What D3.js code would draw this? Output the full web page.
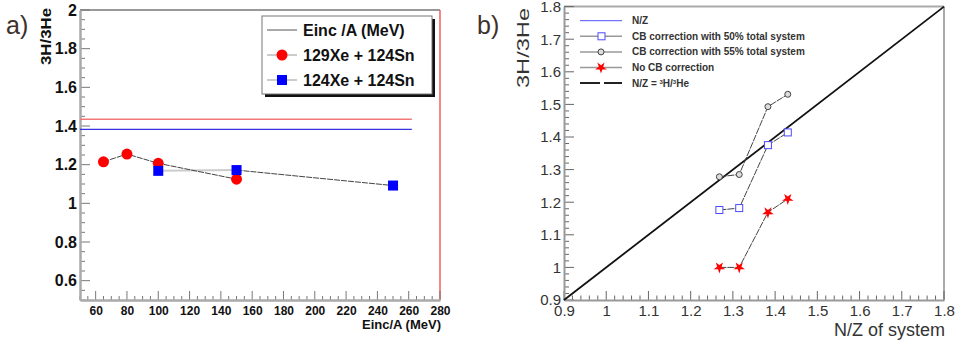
<!DOCTYPE html>
<html>
<head>
<meta charset="utf-8">
<script src="https://cdn.jsdelivr.net/npm/d3@7"></script>
<style>
  body { margin: 0; background: #fff; }
  svg { display: block; font-family: "Liberation Sans", Arial, sans-serif; }
</style>
</head>
<body>
<svg id="chart" width="962" height="341"></svg>
<script>
// panel a) data
const energiesXe129 = [65, 80, 100, 150];
const ratiosXe129 = [1.215, 1.255, 1.207, 1.125];
const energiesXe124 = [100, 150, 250];
const ratiosXe124 = [1.168, 1.172, 1.092];
const nzLevels = [1.435, 1.383];          // N/Z of 129Xe+124Sn, 124Xe+124Sn
const nzLevelColors = ["#f07878", "#3535e0"];
const nzLevelRange = [50, 262];
const legendA = ["Einc /A (MeV)", "129Xe + 124Sn", "124Xe + 124Sn"];

// panel b) data
const nzSystems = [1.268, 1.315, 1.383, 1.43];
const cb50 = [1.176, 1.182, 1.375, 1.414];
const cb55 = [1.278, 1.285, 1.493, 1.531];
const noCB = [1.0, 1.0, 1.169, 1.21];
const diagonal = [0.9, 1.8];
const legendB = ["N/Z", "CB correction with 50% total system", "CB correction with 55% total system", "No CB correction", "N/Z = "];

const svg = d3.select("#chart");

// ---------- panel a ----------
const xA = d3.scaleLinear().domain([50, 280]).range([80, 440]);
const yA = d3.scaleLinear().domain([0.5, 2]).range([300, 10]);

const a = svg.append("g");

// frame: grey top, red right
a.append("line").attr("x1", xA(50)).attr("x2", xA(280)).attr("y1", yA(2)).attr("y2", yA(2))
    .attr("stroke", "#999").attr("stroke-width", 2);
a.append("line").attr("x1", xA(280)).attr("x2", xA(280)).attr("y1", yA(2)).attr("y2", yA(0.5))
    .attr("stroke", "#f06060").attr("stroke-width", 1.5);

// minor ticks
a.selectAll(".xminA").data(d3.range(50, 281, 5)).join("line")
    .attr("x1", d => xA(d)).attr("x2", d => xA(d))
    .attr("y1", yA(0.5)).attr("y2", d => yA(0.5) - (d % 20 === 0 ? 9 : 4))
    .attr("stroke", "#777").attr("stroke-width", 1);
a.selectAll(".yminA").data(d3.range(0.5, 2.001, 0.05)).join("line")
    .attr("x1", xA(50)).attr("x2", d => xA(50) + (Math.abs(d * 5 - Math.round(d * 5)) < 1e-6 ? 10 : 5))
    .attr("y1", d => yA(d)).attr("y2", d => yA(d))
    .attr("stroke", "#777").attr("stroke-width", 1);

const xAxisA = d3.axisBottom(xA).tickValues(d3.range(60, 281, 20)).tickSize(0).tickPadding(6);
const gxA = a.append("g").attr("transform", `translate(0,${yA(0.5)})`).call(xAxisA);
gxA.select(".domain").attr("stroke", "#aaa").attr("stroke-width", 2.5);
gxA.selectAll("text").style("font-size", "12px").style("font-weight", "bold").attr("fill", "#111");

const yAxisA = d3.axisLeft(yA).tickValues([0.6, 0.8, 1, 1.2, 1.4, 1.6, 1.8, 2]).tickSize(0).tickPadding(3)
    .tickFormat(d3.format("~g"));
const gyA = a.append("g").attr("transform", `translate(${xA(50)},0)`).call(yAxisA);
gyA.select(".domain").attr("stroke", "#aaa").attr("stroke-width", 2.5);
gyA.selectAll("text").style("font-size", "16px").style("font-weight", "bold").attr("fill", "#111");

// reference N/Z levels
a.selectAll(".lev").data(nzLevels).join("line")
    .attr("x1", xA(nzLevelRange[0])).attr("x2", xA(nzLevelRange[1]))
    .attr("y1", d => yA(d)).attr("y2", d => yA(d))
    .attr("stroke", (d, i) => nzLevelColors[i]).attr("stroke-width", 1.3);

// series lines
const lineA = d3.line().x(d => xA(d[0])).y(d => yA(d[1]));
const ptsXe124 = energiesXe124.map((e, i) => [e, ratiosXe124[i]]);
const ptsXe129 = energiesXe129.map((e, i) => [e, ratiosXe129[i]]);
a.append("path").attr("d", lineA(ptsXe124.slice(0, 2))).attr("fill", "none")
    .attr("stroke", "#ccc").attr("stroke-width", 2);
a.append("path").attr("d", lineA(ptsXe124.slice(1))).attr("fill", "none")
    .attr("stroke", "#444").attr("stroke-width", 1).attr("stroke-dasharray", "6,1");
a.append("path").attr("d", lineA(ptsXe129)).attr("fill", "none")
    .attr("stroke", "#444").attr("stroke-width", 1).attr("stroke-dasharray", "6,1");

a.selectAll(".c129").data(ptsXe129).join("circle")
    .attr("cx", d => xA(d[0])).attr("cy", d => yA(d[1])).attr("r", 5.5).attr("fill", "#f00");
a.selectAll(".s124").data(ptsXe124).join("rect")
    .attr("x", d => xA(d[0]) - 5).attr("y", d => yA(d[1]) - 5).attr("width", 10).attr("height", 10)
    .attr("fill", "#0000ff");

// legend a
const lg = a.append("g").attr("transform", "translate(262,16)");
lg.append("rect").attr("x", 3).attr("y", 3).attr("width", 170).attr("height", 78).attr("fill", "#111");
lg.append("rect").attr("x", 0).attr("y", 0).attr("width", 170).attr("height", 78)
    .attr("fill", "#fff").attr("stroke", "#777").attr("stroke-width", 1);
legendA.forEach((t, i) => {
  const yy = 14 + i * 25;
  lg.append("line").attr("x1", 5).attr("x2", 35).attr("y1", yy).attr("y2", yy)
      .attr("stroke", i === 0 ? "#555" : "#999").attr("stroke-width", 1);
  if (i === 1) lg.append("circle").attr("cx", 20).attr("cy", yy).attr("r", 5.5).attr("fill", "#f00");
  if (i === 2) lg.append("rect").attr("x", 15).attr("y", yy - 5).attr("width", 10).attr("height", 10).attr("fill", "#00f");
  lg.append("text").attr("x", 41).attr("y", yy + 6).text(t)
      .style("font-size", "16px").style("font-weight", "bold").attr("fill", "#111");
});

a.append("text").attr("x", 441).attr("y", 329).attr("text-anchor", "end").text("Einc/A (MeV)")
    .style("font-size", "13px").style("font-weight", "bold").attr("fill", "#111");
a.append("text").attr("transform", "translate(51,8) rotate(-90)").attr("text-anchor", "end").text("3H/3He")
    .attr("textLength", 57).attr("lengthAdjust", "spacingAndGlyphs")
    .style("font-size", "15px").style("font-weight", "bold").attr("fill", "#111");
a.append("text").attr("x", 6).attr("y", 34).text("a)").style("font-size", "25px").attr("fill", "#3d302b");

// ---------- panel b ----------
const xB = d3.scaleLinear().domain([0.9, 1.8]).range([564, 944]);
const yB = d3.scaleLinear().domain([0.9, 1.8]).range([300, 6.6]);
const b = svg.append("g");

b.append("line").attr("x1", xB(0.9)).attr("x2", xB(1.8)).attr("y1", yB(1.8)).attr("y2", yB(1.8))
    .attr("stroke", "#aaa").attr("stroke-width", 2);
b.append("line").attr("x1", xB(1.8)).attr("x2", xB(1.8)).attr("y1", yB(1.8)).attr("y2", yB(0.9))
    .attr("stroke", "#aaa").attr("stroke-width", 2);

const minorB = d3.range(0.9, 1.8001, 0.02);
const isMajor = d => Math.abs(d * 10 - Math.round(d * 10)) < 1e-6;
b.selectAll(".xminB").data(minorB).join("line")
    .attr("x1", d => xB(d)).attr("x2", d => xB(d))
    .attr("y1", yB(0.9)).attr("y2", d => yB(0.9) - (isMajor(d) ? 9 : 4.5))
    .attr("stroke", "#666").attr("stroke-width", 1);
b.selectAll(".yminB").data(minorB).join("line")
    .attr("x1", xB(0.9)).attr("x2", d => xB(0.9) + (isMajor(d) ? 10 : 5))
    .attr("y1", d => yB(d)).attr("y2", d => yB(d))
    .attr("stroke", "#666").attr("stroke-width", 1);

const majB = d3.range(0.9, 1.8001, 0.1).map(d => +d.toFixed(1));
const gxB = b.append("g").attr("transform", `translate(0,${yB(0.9)})`)
    .call(d3.axisBottom(xB).tickValues(majB).tickSize(0).tickPadding(5).tickFormat(d3.format("~g")));
gxB.select(".domain").attr("stroke", "#999").attr("stroke-width", 2);
gxB.selectAll("text").style("font-size", "15px").attr("fill", "#333");
const gyB = b.append("g").attr("transform", `translate(${xB(0.9)},0)`)
    .call(d3.axisLeft(yB).tickValues(majB).tickSize(0).tickPadding(3).tickFormat(d3.format("~g")));
gyB.select(".domain").attr("stroke", "#999").attr("stroke-width", 2);
gyB.selectAll("text").style("font-size", "15px").attr("fill", "#333");

// diagonal N/Z = 3H/3He
b.append("line").attr("x1", xB(diagonal[0])).attr("y1", yB(diagonal[0]))
    .attr("x2", xB(diagonal[1])).attr("y2", yB(diagonal[1]))
    .attr("stroke", "#111").attr("stroke-width", 1.8);

const lineB = d3.line().x((d, i) => xB(nzSystems[i])).y(d => yB(d));
[cb55, cb50, noCB].forEach(s => {
  b.append("path").attr("d", lineB(s)).attr("fill", "none")
      .attr("stroke", "#444").attr("stroke-width", 1).attr("stroke-dasharray", "7,1");
});
b.selectAll(".c55").data(cb55).join("circle")
    .attr("cx", (d, i) => xB(nzSystems[i])).attr("cy", d => yB(d)).attr("r", 3)
    .attr("fill", "#ddd").attr("stroke", "#444").attr("stroke-width", 1);
b.selectAll(".s50").data(cb50).join("rect")
    .attr("x", (d, i) => xB(nzSystems[i]) - 3.5).attr("y", d => yB(d) - 3.5)
    .attr("width", 7).attr("height", 7).attr("fill", "#fff").attr("stroke", "#4a4aff").attr("stroke-width", 1);
const star = d3.symbol().type(d3.symbolStar).size(42);
b.selectAll(".st").data(noCB).join("path")
    .attr("d", star)
    .attr("transform", (d, i) => `translate(${xB(nzSystems[i])},${yB(d)}) rotate(180)`)
    .attr("fill", "#f00");

// legend b
const lb = b.append("g");
legendB.forEach((t, i) => {
  const yy = 20.7 + i * 15.6;
  const ln = lb.append("line").attr("x1", 580).attr("x2", 622).attr("y1", yy).attr("y2", yy);
  if (i === 0) ln.attr("stroke", "#5050ff").attr("stroke-width", 1);
  else if (i === 4) ln.attr("stroke", "#222").attr("stroke-width", 2).attr("stroke-dasharray", "20,4");
  else ln.attr("stroke", "#999").attr("stroke-width", 1.5);
  if (i === 1) lb.append("rect").attr("x", 598).attr("y", yy - 3.5).attr("width", 7).attr("height", 7)
      .attr("fill", "#fff").attr("stroke", "#4a4aff");
  if (i === 2) lb.append("circle").attr("cx", 601).attr("cy", yy).attr("r", 3)
      .attr("fill", "#ddd").attr("stroke", "#444");
  if (i === 3) lb.append("path").attr("d", star).attr("transform", `translate(601,${yy}) rotate(180)`).attr("fill", "#f00");
  const tx = lb.append("text").attr("x", 632).attr("y", yy + 3.5)
      .style("font-size", "10px").style("font-weight", "bold").attr("fill", "#333").text(t);
  if (i === 4) {
    tx.append("tspan").attr("dy", -3).style("font-size", "6px").text("3");
    tx.append("tspan").attr("dy", 3).text("H/");
    tx.append("tspan").attr("dy", -3).style("font-size", "6px").text("3");
    tx.append("tspan").attr("dy", 3).text("He");
  }
});

b.append("text").attr("x", 945).attr("y", 336).attr("text-anchor", "end").text("N/Z of system")
    .style("font-size", "18px").attr("fill", "#333");
b.append("text").attr("transform", "translate(529,8) rotate(-90)").attr("text-anchor", "end").text("3H/3He")
    .attr("textLength", 80).attr("lengthAdjust", "spacingAndGlyphs")
    .style("font-size", "17px").attr("fill", "#333");
b.append("text").attr("x", 477).attr("y", 34).text("b)").style("font-size", "25px").attr("fill", "#3d302b");
</script>
</body>
</html>
